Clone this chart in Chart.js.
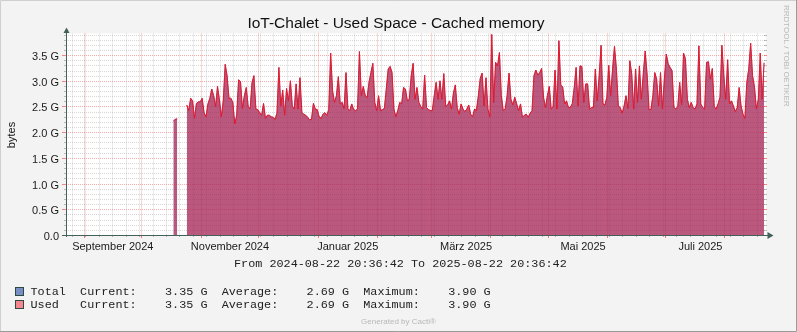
<!DOCTYPE html>
<html>
<head>
<meta charset="utf-8">
<script src="https://cdn.jsdelivr.net/npm/chart.js@4.4.1/dist/chart.umd.min.js"></script>
<style>
  html, body { margin: 0; padding: 0; background: #f3f3f3; }
  canvas { display: block; }
</style>
</head>
<body>
<canvas id="chart" width="797" height="332"></canvas>
<script>
// ---------- DATA (GB, one value per day since 2024-08-22 20:36:42) ----------
const firstDay = 56;
const totalValues = [
  2.22, 2.25, 2.26, null, null, null, null, 2.53, 2.42, 2.66,
  2.61, 2.27, 2.56, 2.59, 2.59, 2.66, 2.38, 2.30, 2.55, 2.66,
  2.84, 2.71, 2.50, 2.89, 2.63, 2.30, 2.61, 3.32, 3.10, 2.66,
  2.66, 2.58, 2.16, 2.33, 3.02, 2.98, 2.46, 2.71, 2.87, 2.50,
  2.45, 2.97, 3.10, 2.45, 2.44, 2.38, 2.33, 2.56, 2.27, 2.33,
  2.33, 2.30, 2.29, 2.25, 2.37, 3.26, 2.51, 2.82, 2.33, 2.85,
  2.61, 3.00, 2.51, 2.45, 2.94, 2.45, 3.06, 2.38, 2.35, 2.33,
  2.29, 2.24, 2.25, 2.56, 2.45, 2.44, 2.30, 2.27, 2.35, 2.38,
  2.33, 2.44, 3.54, 2.81, 2.58, 2.71, 3.08, 2.55, 2.58, 2.46,
  3.16, 2.45, 2.42, 2.55, 2.44, 2.42, 2.45, 3.57, 2.71, 2.89,
  2.72, 2.67, 2.97, 3.16, 3.34, 2.58, 2.42, 2.71, 2.42, 2.44,
  2.46, 2.84, 3.23, 3.28, 3.16, 2.45, 2.30, 2.42, 2.58, 2.55,
  2.87, 2.84, 2.61, 2.64, 3.10, 3.34, 2.64, 2.87, 2.58, 2.50,
  2.45, 3.11, 2.48, 2.44, 2.42, 2.42, 2.71, 2.97, 2.64, 3.00,
  2.64, 3.14, 2.50, 2.53, 2.61, 2.45, 2.76, 2.92, 2.48, 2.35,
  2.55, 2.45, 2.40, 2.45, 2.53, 2.35, 2.30, 2.45, 2.42, 2.71,
  3.05, 3.15, 2.51, 3.06, 2.45, 2.30, 3.90, 2.58, 3.36, 3.29,
  3.55, 2.71, 2.42, 2.45, 2.71, 3.15, 2.64, 2.53, 2.68, 2.55,
  2.42, 2.55, 2.29, 2.33, 2.35, 2.29, 2.37, 2.42, 3.10, 3.21,
  3.11, 3.16, 3.24, 2.68, 2.48, 2.71, 2.89, 2.45, 2.50, 3.21,
  2.45, 3.78, 2.92, 2.88, 2.55, 2.61, 2.48, 2.48, 2.56, 2.87,
  3.26, 2.51, 3.29, 3.28, 2.58, 2.94, 2.94, 2.45, 2.48, 2.48,
  3.23, 2.61, 3.10, 3.69, 2.55, 2.53, 2.68, 3.30, 2.71, 3.23,
  3.67, 3.23, 2.51, 2.48, 2.37, 2.51, 2.71, 2.46, 3.39, 3.13,
  2.45, 3.23, 2.58, 3.29, 2.64, 3.13, 3.58, 3.13, 2.44, 2.44,
  2.71, 3.16, 3.03, 2.51, 3.16, 2.45, 3.03, 3.52, 3.33, 3.26,
  3.20, 2.48, 2.45, 2.50, 2.97, 2.53, 3.54, 3.43, 2.64, 2.48,
  2.58, 2.48, 2.45, 2.55, 3.68, 2.55, 2.48, 2.45, 3.36, 3.37,
  3.03, 3.24, 2.50, 2.45, 2.55, 2.68, 3.69, 3.10, 2.64, 3.41,
  2.55, 2.61, 2.51, 2.40, 2.48, 2.87, 2.51, 2.35, 2.27, 2.97,
  3.23, 3.73, 3.10, 2.88, 2.45, 2.64, 3.54, 2.64, 3.35
];
// Used is the same series as Total in this graph
const usedValues = totalValues.slice();

const monthLabels = ["September 2024", "November 2024", "Januar 2025", "März 2025", "Mai 2025", "Juli 2025"];
const monthLabelDays = [24.4, 85.5, 146.9, 208.6, 269.6, 330.8];
const yTickLabels = ["0.0", "0.5 G", "1.0 G", "1.5 G", "2.0 G", "2.5 G", "3.0 G", "3.5 G"];

const legendNames = ["Total", "Used "];
const legendCurrent = ["3.35 G", "3.35 G"];
const legendAverage = ["2.69 G", "2.69 G"];
const legendMaximum = ["3.90 G", "3.90 G"];

const startTime = new Date(2024, 7, 22, 20, 36, 42);
const spanDays = 365;
const yMax = 3.92;

const totalFill = "rgba(0,42,151,0.5)";
const usedFill = "rgba(245,29,48,0.5)";
const usedLine = "#e8182a";

function toPoints(values) {
  return values.map((v, i) => ({ x: firstDay + i, y: v }));
}

function dayOf(date) {
  return (date - startTime) / 86400000;
}

// weekly (Mondays) and monthly grid days
const weekDays = [];
for (let d = new Date(2024, 7, 26); dayOf(d) < spanDays; d.setDate(d.getDate() + 7)) weekDays.push(dayOf(d));
const monthDays = [];
for (let m = 1; m <= 12; m++) monthDays.push(dayOf(new Date(2024, 7 + m, 1)));

// ---------- RRD style drawing ----------
const rrdPlugin = {
  id: "rrd",
  beforeDraw(chart) {
    const ctx = chart.ctx;
    const a = chart.chartArea;
    ctx.save();
    ctx.fillStyle = "#f3f3f3";
    ctx.fillRect(0, 0, chart.width, chart.height);
    ctx.fillStyle = "#ffffff";
    ctx.fillRect(a.left, a.top, a.right - a.left, a.bottom - a.top);
    ctx.restore();
  },
  // grid under the (semi transparent) areas, like rrdtool
  beforeDatasetsDraw(chart) {
    const ctx = chart.ctx;
    const xs = chart.scales.x, ys = chart.scales.y;
    const { left, right, top, bottom } = chart.chartArea;
    ctx.save();
    ctx.lineWidth = 1;

    for (let i = 1; i <= 39; i++) {
      const y = Math.round(ys.getPixelForValue(i / 10)) + 0.5;
      const major = i % 5 === 0;
      ctx.setLineDash([1, 1]);
      ctx.strokeStyle = major ? "rgba(240,90,90,0.5)" : "rgba(140,140,140,0.35)";
      ctx.beginPath();
      ctx.moveTo(left, y); ctx.lineTo(right, y); ctx.stroke();
    }

    const vline = (d, major) => {
      const x = Math.round(xs.getPixelForValue(d)) + 0.5;
      ctx.setLineDash([1, 1]);
      ctx.strokeStyle = major ? "rgba(240,90,90,0.5)" : "rgba(140,140,140,0.35)";
      ctx.beginPath();
      ctx.moveTo(x, top); ctx.lineTo(x, bottom); ctx.stroke();
    };
    weekDays.forEach(d => vline(d, false));
    monthDays.forEach(d => vline(d, true));
    ctx.restore();
  },
  afterDatasetsDraw(chart) {
    const ctx = chart.ctx;
    const xs = chart.scales.x, ys = chart.scales.y;
    const { left, right, top, bottom } = chart.chartArea;
    ctx.save();
    ctx.lineWidth = 1;

    // tick marks on both sides of the plot
    for (let i = 1; i <= 39; i++) {
      const y = Math.round(ys.getPixelForValue(i / 10)) + 0.5;
      const major = i % 5 === 0;
      ctx.strokeStyle = major ? "rgba(255,60,60,0.6)" : "rgba(128,128,128,0.5)";
      ctx.beginPath();
      ctx.moveTo(left - (major ? 4 : 2), y); ctx.lineTo(left, y);
      ctx.moveTo(right - 2, y); ctx.lineTo(right + 1, y);
      ctx.stroke();
    }
    const vtick = (d, major) => {
      const x = Math.round(xs.getPixelForValue(d)) + 0.5;
      ctx.strokeStyle = major ? "rgba(255,60,60,0.7)" : "rgba(128,128,128,0.6)";
      ctx.beginPath();
      ctx.moveTo(x, bottom); ctx.lineTo(x, bottom + (major ? 3 : 2)); ctx.stroke();
    };
    weekDays.forEach(d => vtick(d, false));
    monthDays.forEach(d => vtick(d, true));

    // axes with arrows
    ctx.strokeStyle = "#44605a";
    ctx.fillStyle = "#44605a";
    ctx.beginPath();
    ctx.moveTo(left + 0.5, bottom + 2); ctx.lineTo(left + 0.5, top - 4);
    ctx.moveTo(left - 4, bottom + 0.5); ctx.lineTo(right + 4, bottom + 0.5);
    ctx.stroke();
    ctx.beginPath();
    ctx.moveTo(left - 2.5, top - 0.5); ctx.lineTo(left + 3.5, top - 0.5); ctx.lineTo(left + 0.5, top - 6);
    ctx.closePath(); ctx.fill();
    ctx.beginPath();
    ctx.moveTo(right + 1.5, bottom - 3); ctx.lineTo(right + 1.5, bottom + 4); ctx.lineTo(right + 7.5, bottom + 0.5);
    ctx.closePath(); ctx.fill();

    // tick labels
    ctx.fillStyle = "#1a1a1a";
    ctx.font = "11px 'Liberation Sans', Arial, sans-serif";
    ctx.textAlign = "right";
    ctx.textBaseline = "alphabetic";
    yTickLabels.forEach((t, i) => {
      const y = Math.round(ys.getPixelForValue(i * 0.5));
      ctx.fillText(t, 59, y + 4.5);
    });
    ctx.textAlign = "center";
    monthLabels.forEach((t, i) => {
      ctx.fillText(t, xs.getPixelForValue(monthLabelDays[i]), 249.5);
    });
    ctx.restore();
  },
  afterDraw(chart) {
    const ctx = chart.ctx;
    const W = chart.width, H = chart.height;
    ctx.save();

    // title
    ctx.fillStyle = "#111";
    ctx.font = "15.5px 'Liberation Sans', Arial, sans-serif";
    ctx.textAlign = "center";
    ctx.fillText("IoT-Chalet - Used Space - Cached memory", 396, 28);

    // y axis title
    ctx.font = "11px 'Liberation Sans', Arial, sans-serif";
    ctx.save();
    ctx.translate(15, 135);
    ctx.rotate(-Math.PI / 2);
    ctx.fillText("bytes", 0, 0);
    ctx.restore();

    // watermark
    ctx.fillStyle = "#b8b8b8";
    ctx.font = "8px 'Liberation Sans', Arial, sans-serif";
    ctx.save();
    ctx.translate(784, 5);
    ctx.rotate(Math.PI / 2);
    ctx.textAlign = "left";
    ctx.fillText("RRDTOOL / TOBI OETIKER", 0, 0);
    ctx.restore();
    ctx.fillText("Generated by Cacti®", 398.5, 324);

    // legend
    ctx.fillStyle = "#222";
    ctx.font = "11.8px 'Liberation Mono', 'DejaVu Sans Mono', monospace";
    ctx.textAlign = "left";
    ctx.fillText("From 2024-08-22 20:36:42 To 2025-08-22 20:36:42", 234, 266.5);
    const fills = [totalFill, usedFill];
    legendNames.forEach((name, i) => {
      const base = 295 + i * 13.3;
      const sy = Math.round(base - 8) + 0.5;
      ctx.fillStyle = "#f3f3f3";
      ctx.fillRect(15.5, sy, 8, 8);
      ctx.fillStyle = fills[i];
      ctx.fillRect(15.5, sy, 8, 8);
      ctx.strokeStyle = "#2e4a40";
      ctx.lineWidth = 1;
      ctx.strokeRect(15.5, sy, 8, 8);
      ctx.fillStyle = "#222";
      const line = name + "  Current:    " + legendCurrent[i] +
        "  Average:    " + legendAverage[i] + "  Maximum:    " + legendMaximum[i];
      ctx.fillText(line, 30.5, base);
    });

    // frame
    ctx.lineWidth = 1;
    ctx.strokeStyle = "#cfcfcf";
    ctx.beginPath();
    ctx.moveTo(0.5, H); ctx.lineTo(0.5, 0.5); ctx.lineTo(W, 0.5);
    ctx.stroke();
    ctx.strokeStyle = "#9a9a9a";
    ctx.beginPath();
    ctx.moveTo(W - 0.5, 0); ctx.lineTo(W - 0.5, H - 0.5); ctx.lineTo(0, H - 0.5);
    ctx.stroke();
    ctx.restore();
  }
};

new Chart(document.getElementById("chart").getContext("2d"), {
  type: "line",
  data: {
    datasets: [
      {
        label: "Total",
        data: toPoints(totalValues),
        backgroundColor: totalFill,
        borderColor: "rgba(0,42,151,0.35)",
        borderWidth: 1,
        fill: "origin",
        order: 2,
        pointRadius: 0
      },
      {
        label: "Used",
        data: toPoints(usedValues),
        backgroundColor: usedFill,
        borderColor: usedLine,
        borderWidth: 1,
        fill: "origin",
        order: 1,
        pointRadius: 0
      }
    ]
  },
  options: {
    responsive: false,
    animation: false,
    spanGaps: false,
    layout: { padding: { left: 66, right: 31, top: 33.5, bottom: 97 } },
    scales: {
      x: { type: "linear", min: 0, max: spanDays, display: false },
      y: { min: 0, max: yMax, display: false }
    },
    plugins: {
      legend: { display: false },
      tooltip: { enabled: false }
    }
  },
  plugins: [rrdPlugin]
});
</script>
</body>
</html>
